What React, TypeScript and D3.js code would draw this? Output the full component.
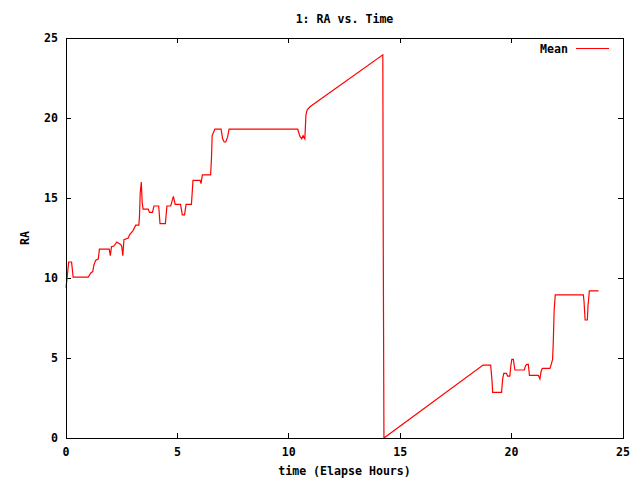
import React, { useEffect, useRef } from "react";
import * as d3 from "d3";

// elapsed time (hours) and mean RA
const hours = [
  0, 0.05, 0.12, 0.25, 0.28, 0.32, 1.0, 1.1, 1.2, 1.25, 1.33, 1.45, 1.5, 1.94,
  1.99, 2.04, 2.15, 2.28, 2.45, 2.5, 2.55, 2.6, 2.8, 2.85, 3.0, 3.13, 3.27, 3.3,
  3.33, 3.38, 3.42, 3.46, 3.69, 3.75, 3.88, 3.95, 4.16, 4.22, 4.46, 4.53, 4.7,
  4.76, 4.82, 4.9, 5.14, 5.22, 5.32, 5.39, 5.63, 5.7, 6.02, 6.06, 6.12, 6.49,
  6.53, 6.56, 6.62, 6.68, 6.96, 7.03, 7.1, 7.17, 7.25, 7.32, 10.4, 10.5, 10.58,
  10.64, 10.72, 10.77, 10.82, 10.95, 14.22, 14.24, 14.27, 18.72, 19.06, 19.12,
  19.15, 19.55, 19.6, 19.65, 19.77, 19.82, 19.92, 19.97, 20.01, 20.08, 20.12,
  20.15, 20.57, 20.62, 20.68, 20.75, 20.78, 20.8, 21.2, 21.27, 21.33, 21.38,
  21.72, 21.78, 21.84, 21.87, 21.91, 21.96, 23.22, 23.25, 23.3, 23.4, 23.43,
  23.46, 23.49, 23.9,
];
const ra = [
  9.4, 10.0, 11.0, 11.0, 10.6, 10.05, 10.05, 10.3, 10.4, 10.8, 11.1, 11.2, 11.8,
  11.8, 11.4, 11.95, 12.0, 12.25, 12.1, 12.0, 11.4, 12.4, 12.5, 12.7, 12.95,
  13.3, 13.3, 13.9, 15.3, 16.0, 14.7, 14.3, 14.3, 14.1, 14.1, 14.5, 14.5, 13.4,
  13.4, 14.5, 14.5, 14.8, 15.1, 14.6, 14.6, 13.95, 13.95, 14.6, 14.6, 16.1,
  16.1, 15.9, 16.45, 16.45, 17.5, 18.9, 19.1, 19.3, 19.3, 18.7, 18.5, 18.5,
  18.8, 19.3, 19.3, 18.85, 18.7, 18.9, 18.7, 20.2, 20.5, 20.7, 23.95, 12.0, 0,
  4.56, 4.56, 3.6, 2.85, 2.85, 3.7, 4.04, 4.04, 3.87, 3.87, 4.56, 4.92, 4.92,
  4.5, 4.25, 4.25, 4.5, 4.6, 4.6, 4.2, 3.92, 3.92, 3.69, 4.2, 4.35, 4.35, 4.6,
  4.92, 5.96, 8.0, 8.94, 8.94, 8.55, 7.375, 7.375, 8.3, 8.7, 9.19, 9.19,
];

const xTicks = [0, 5, 10, 15, 20, 25];
const yTicks = [0, 5, 10, 15, 20, 25];

const FONT = "'DejaVu Sans Mono', monospace";

export default function App() {
  const svgRef = useRef<SVGSVGElement>(null);

  useEffect(() => {
    document.body.style.margin = "0";
    const width = 640;
    const height = 480;
    const margin = { top: 38, right: 17, bottom: 42, left: 66 };
    const innerWidth = width - margin.left - margin.right;
    const innerHeight = height - margin.top - margin.bottom;

    d3.select(svgRef.current).selectAll("*").remove();

    const svg = d3
      .select(svgRef.current)
      .attr("width", width)
      .attr("height", height)
      .style("background", "#fff");

    const x = d3.scaleLinear().domain([0, 25]).range([margin.left, margin.left + innerWidth]);
    const y = d3.scaleLinear().domain([0, 25]).range([margin.top + innerHeight, margin.top]);

    const data = hours.map((h, i) => ({ h, v: ra[i] }));

    const line = d3
      .line<{ h: number; v: number }>()
      .x((d) => x(d.h))
      .y((d) => y(d.v));

    // ticks, inward and mirrored
    const tickLen = 5;
    const g = svg.append("g").attr("stroke", "#000").attr("shape-rendering", "crispEdges");
    xTicks.forEach((t) => {
      g.append("line").attr("x1", x(t)).attr("x2", x(t)).attr("y1", y(0)).attr("y2", y(0) - tickLen);
      g.append("line").attr("x1", x(t)).attr("x2", x(t)).attr("y1", y(25)).attr("y2", y(25) + tickLen);
    });
    yTicks.forEach((t) => {
      g.append("line").attr("x1", x(0)).attr("x2", x(0) + tickLen).attr("y1", y(t)).attr("y2", y(t));
      g.append("line").attr("x1", x(25)).attr("x2", x(25) - tickLen).attr("y1", y(t)).attr("y2", y(t));
    });

    // data line
    svg
      .append("path")
      .datum(data)
      .attr("fill", "none")
      .attr("stroke", "#ff0000")
      .attr("stroke-width", 1.2)
      .attr("d", line);

    // frame
    svg
      .append("rect")
      .attr("x", margin.left)
      .attr("y", margin.top)
      .attr("width", innerWidth)
      .attr("height", innerHeight)
      .attr("fill", "none")
      .attr("stroke", "#000")
      .attr("shape-rendering", "crispEdges");

    const txt = svg
      .append("g")
      .style("font-family", FONT)
      .style("font-size", "11.6px")
      .style("font-weight", "bold")
      .attr("fill", "#000");

    xTicks.forEach((t) => {
      txt
        .append("text")
        .attr("x", x(t))
        .attr("y", y(0) + 18)
        .attr("text-anchor", "middle")
        .text(t);
    });
    yTicks.forEach((t) => {
      txt
        .append("text")
        .attr("x", margin.left - 8)
        .attr("y", y(t) + 4)
        .attr("text-anchor", "end")
        .text(t);
    });

    const cx = margin.left + innerWidth / 2;
    txt
      .append("text")
      .attr("x", cx)
      .attr("y", 23)
      .attr("text-anchor", "middle")
      .text("1: RA vs. Time");

    txt
      .append("text")
      .attr("x", cx)
      .attr("y", 475)
      .attr("text-anchor", "middle")
      .text("time (Elapse Hours)");

    txt
      .append("text")
      .attr("transform", `translate(29, ${margin.top + innerHeight / 2}) rotate(-90)`)
      .attr("text-anchor", "middle")
      .text("RA");

    // legend
    txt
      .append("text")
      .attr("x", 568)
      .attr("y", 53)
      .attr("text-anchor", "end")
      .text("Mean");
    svg
      .append("line")
      .attr("x1", 576)
      .attr("x2", 609)
      .attr("y1", 48.5)
      .attr("y2", 48.5)
      .attr("stroke", "#ff0000")
      .attr("stroke-width", 1);
  }, []);

  return <svg ref={svgRef}></svg>;
}
